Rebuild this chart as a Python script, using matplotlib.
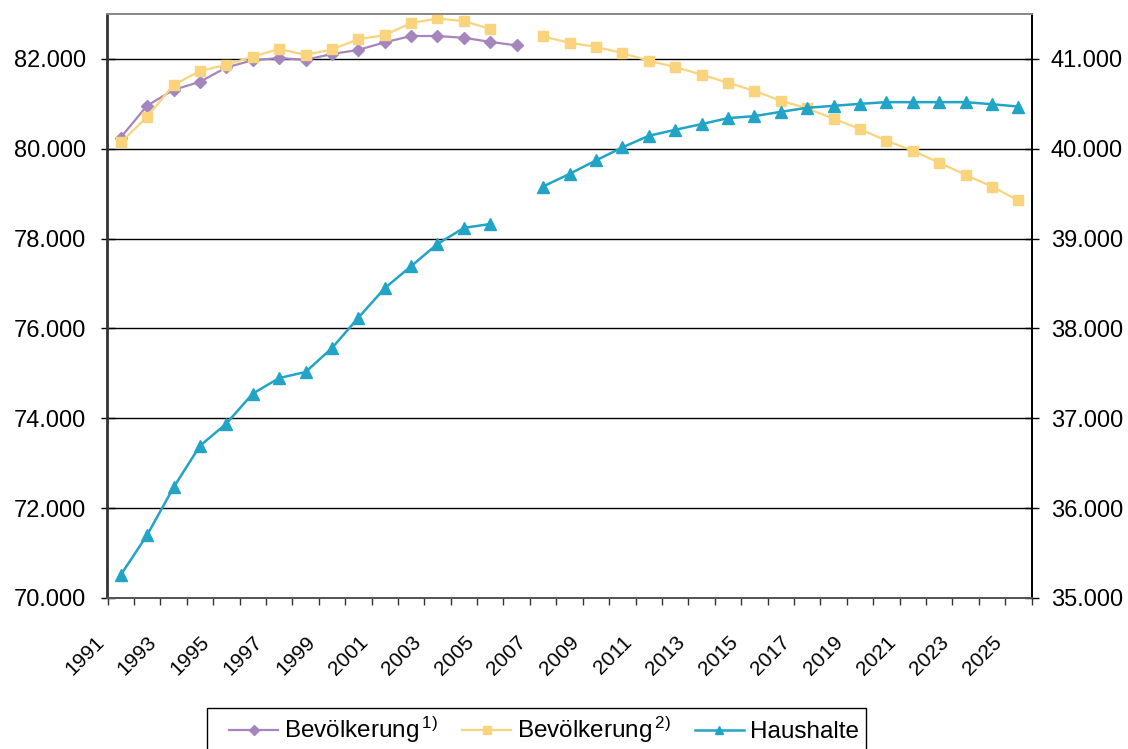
import matplotlib.pyplot as plt
import matplotlib.transforms as mtransforms
from matplotlib.patches import Rectangle
from matplotlib.ticker import FuncFormatter
import numpy as np

plt.rcParams['font.family'] = ['Liberation Sans', 'DejaVu Sans']
plt.rcParams['mathtext.default'] = 'regular'

nan = np.nan

years = list(range(1991, 2026))

# Bevölkerung 1) - in Tausend, 1991-2006
bev1 = [80250, 80960, 81310, 81490, 81810, 81970, 82020, 81980, 82110, 82200,
        82370, 82510, 82510, 82470, 82380, 82300] + [nan] * 19

# Bevölkerung 2) - in Tausend, Vorausberechnung (Lücke 2006)
bev2 = [80140, 80710, 81420, 81730, 81870, 82050, 82220, 82090, 82210, 82440,
        82530, 82800, 82900, 82840, 82670, nan,
        82500, 82360, 82270, 82130, 81960, 81820, 81650, 81470, 81290, 81070,
        80900, 80670, 80440, 80180, 79960, 79690, 79420, 79160, 78850]

# Haushalte - in Tausend, rechte Achse
haush = [35256, 35700, 36230, 36693, 36941, 37274, 37448, 37515, 37781, 38119,
         38448, 38693, 38941, 39119, 39163, nan,
         39580, 39720, 39870, 40015, 40144, 40211, 40274, 40341, 40363, 40411,
         40456, 40478, 40500, 40519, 40519, 40519, 40519, 40496, 40470]

c_bev1 = '#A585BE'
c_bev2 = '#F9D47C'
c_haus = '#22A4C6'

W, H = 1128, 749
fig = plt.figure(figsize=(W / 100, H / 100), dpi=100)
ax = fig.add_axes([107.5 / W, 1 - 598 / H, 924 / W, 584 / H])
ax2 = ax.twinx()

x = np.arange(len(years))

l1, = ax.plot(x, bev1, color=c_bev1, lw=1.6, marker='D', ms=6.5, zorder=3)
l2, = ax.plot(x, bev2, color=c_bev2, lw=1.6, marker='s', ms=7, zorder=3)
l3, = ax2.plot(x, haush, color=c_haus, lw=1.8, marker='^', ms=8.5, zorder=3)

ax.set_xlim(-0.5, len(years) - 0.5)
ax.set_ylim(70000, 83000)
ax2.set_ylim(35000, 41500)
ax.set_yticks(np.arange(70000, 82001, 2000))
ax2.set_yticks(np.arange(35000, 41001, 1000))

fmt = FuncFormatter(lambda v, p: f'{v:,.0f}'.replace(',', '.'))
ax.yaxis.set_major_formatter(fmt)
ax2.yaxis.set_major_formatter(fmt)

ax.yaxis.grid(True, color='black', lw=1.0)
ax.set_axisbelow(True)

# category labels every other year, tick marks between categories
ax.set_xticks(x[::2])
ax.set_xticklabels([str(y) for y in years[::2]], rotation=45, ha='right')
ax.set_xticks(np.arange(-0.5, len(years), 1), minor=True)
ax.tick_params(axis='x', which='major', length=0, pad=25, labelsize=15)
ax.tick_params(axis='x', which='minor', length=5, width=1, color='#333333')
shift = mtransforms.ScaledTranslation(-13 / 100, 0, fig.dpi_scale_trans)
for lab in ax.get_xticklabels():
    lab.set_transform(lab.get_transform() + shift)

ax.tick_params(axis='y', direction='inout', length=9.5, width=1,
               labelsize=17, pad=10.5)
ax2.tick_params(axis='y', direction='inout', length=9.5, width=1,
                labelsize=17, pad=9)

for a in (ax, ax2):
    a.spines['top'].set_color('#888888')
    a.spines['bottom'].set_color('#555555')
    a.spines['left'].set_color('#333333')
    a.spines['right'].set_color('black')
    for s in a.spines.values():
        s.set_linewidth(1.3)

# legend box runs past the lower edge of the figure
fig.patches.append(Rectangle((207 / W, -0.05), (866 - 207) / W, 0.05 + 1 - 708 / H,
                             transform=fig.transFigure, facecolor='white',
                             edgecolor='black', lw=1.0, zorder=0))

leg = fig.legend([l1, l2, l3],
                 ['Bevölkerung$^{\\,1)}$', 'Bevölkerung$^{\\,2)}$', 'Haushalte'],
                 loc='upper left', bbox_to_anchor=(222 / W, 1 - 708 / H),
                 ncol=3, fontsize=17.5, frameon=False, handlelength=2.0,
                 handletextpad=0.25, columnspacing=1.0, borderpad=0.3,
                 borderaxespad=0, markerscale=0.75)

fig.savefig('out.png', dpi=100, facecolor='white')
